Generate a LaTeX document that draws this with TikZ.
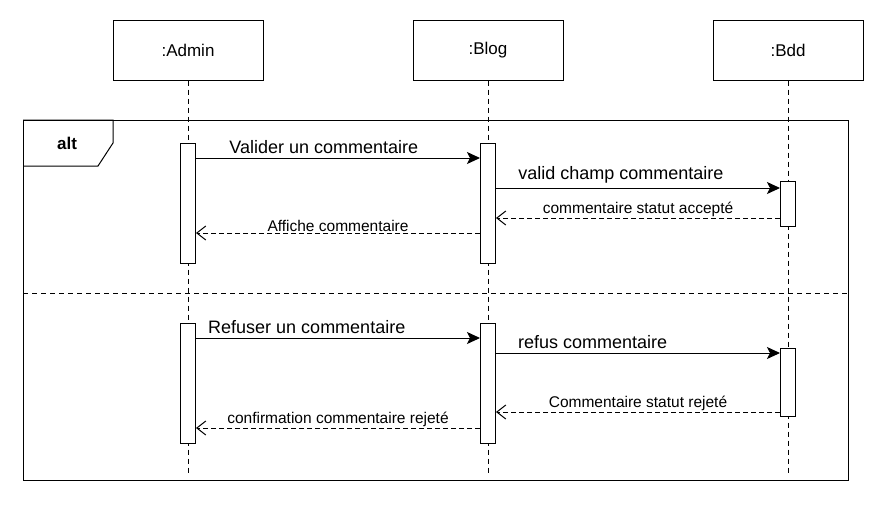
\documentclass[tikz,border=0pt]{standalone}
\usepackage{fontspec}
\setmainfont{Liberation Sans}
\usetikzlibrary{arrows.meta}

\begin{document}
\begin{tikzpicture}[x=1pt, y=-1pt, line width=1pt,
  head/.style={draw, minimum width=150pt, minimum height=60pt, font=\fontsize{17}{20}\selectfont},
  bar/.style={draw, fill=white, minimum width=15pt, inner sep=0pt, anchor=north},
  life/.style={dash pattern=on 5pt off 4pt},
  msg/.style={-{Stealth[length=13pt,width=12pt,inset=3pt]}},
  ret/.style={dash pattern=on 5pt off 3pt, -{Straight Barb[length=9pt,width=14pt]}},
  msglbl/.style={font=\fontsize{18}{21}\selectfont, above, inner sep=4pt},
  retlbl/.style={font=\fontsize{15.5}{18}\selectfont, above, inner sep=1pt}]
  \useasboundingbox (0,0) rectangle (888,504);
  % combined fragment
  \node[draw, minimum width=825pt, minimum height=360pt, inner sep=0pt, anchor=north west] (alt) at (23,120) {};
  \draw (alt.north west) -- (113,120) -- (113,143) -- (98,166) -- (alt.west |- 0,166);
  \node[font=\fontsize{17}{20}\selectfont\bfseries] (altlbl) at (67,143) {alt};
  \draw[life] (alt.west |- 0,293) -- (alt.east |- 0,293);
  % lifelines
  \foreach \n/\x/\t in {admin/188/:Admin, blog/488/:Blog, bdd/788/:Bdd} {
    \node[head] (\n) at (\x,50) {\t};
    \coordinate (\n-end) at (\x,475);
    \draw[life] (\n) -- (\n-end);
  }
  % activations
  \foreach \n/\x/\y/\h in {a1/188/143/120, b1/488/143/120, d1/788/181/45, a2/188/323/120, b2/488/323/120, d2/788/348/68}
    \node[bar, minimum height=\h pt] (\n) at (\x,\y) {};
  % first operand
  \draw[msg] (a1.east |- 0,158) -- node[msglbl, pos=0.45] {Valider un commentaire} (b1.west |- 0,158);
  \draw[msg] (b1.east |- 0,188) -- node[msglbl, pos=0.44] {valid champ commentaire} (d1.west |- 0,188);
  \draw[ret] (d1.west |- 0,218) -- node[retlbl] {commentaire statut accepté} (b1.east |- 0,218);
  \draw[ret] (b1.west |- 0,233) -- node[retlbl] {Affiche commentaire} (a1.east |- 0,233);
  % second operand
  \draw[msg] (a2.east |- 0,338) -- node[msglbl, pos=0.39] {Refuser un commentaire} (b2.west |- 0,338);
  \draw[msg] (b2.east |- 0,353) -- node[msglbl, pos=0.34] {refus commentaire} (d2.west |- 0,353);
  \draw[ret] (d2.west |- 0,412) -- node[retlbl] {Commentaire statut rejeté} (b2.east |- 0,412);
  \draw[ret] (b2.west |- 0,428) -- node[retlbl] {confirmation commentaire rejeté} (a2.east |- 0,428);
\end{tikzpicture}
\end{document}
